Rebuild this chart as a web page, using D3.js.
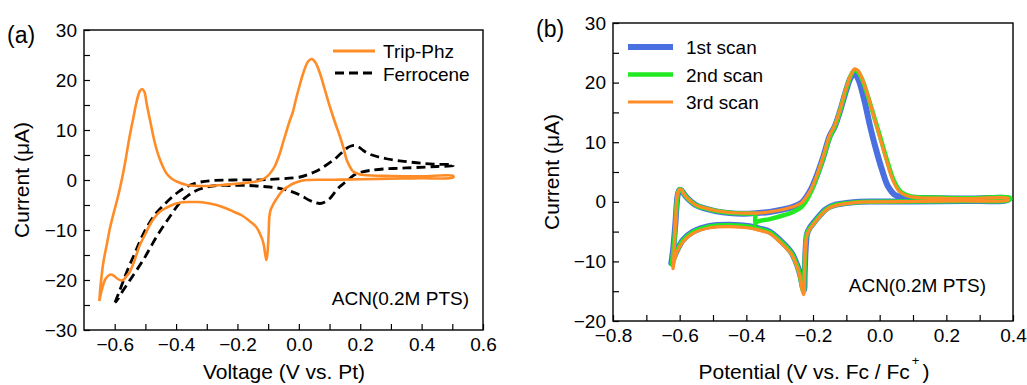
<!DOCTYPE html>
<html>
<head>
<meta charset="utf-8">
<script src="https://cdn.jsdelivr.net/npm/d3@7"></script>
<style>
  body { margin: 0; background: #fff; }
  svg { display: block; font-family: "Liberation Sans", Arial, Helvetica, sans-serif; }
</style>
</head>
<body>
<div id="chart"></div>
<script>

// ---- data: [potential (V), current (uA)] ----

// panel (a) Trip-Phz, anodic sweep from -0.65 then back
var tripPhz = [
    [-0.650,-24.2],[-0.645,-20.5],[-0.637,-16.5],[-0.626,-13],[-0.615,-9.5],[-0.605,-7],
    [-0.590,-3.5],[-0.577,0],[-0.566,3.5],[-0.552,8.5],[-0.539,12.5],[-0.528,15.8],
    [-0.518,17.8],[-0.511,18.2],[-0.503,17.6],[-0.496,15.3],[-0.485,12],[-0.474,8.7],
    [-0.463,6],[-0.452,4],[-0.440,2.3],[-0.431,1.3],[-0.415,0.3],[-0.398,-0.3],
    [-0.365,-1.0],[-0.300,-1.2],[-0.250,-1.0],[-0.214,-0.8],[-0.160,-0.5],[-0.127,-0.1],
    [-0.110,0.4],[-0.094,1.3],[-0.078,2.8],[-0.062,5.3],[-0.050,7.8],[-0.040,9.8],
    [-0.030,11.8],[-0.020,13.5],[-0.008,16.5],[0.003,19],[0.014,21.3],[0.030,23.7],
    [0.042,24.2],[0.054,23.5],[0.069,21.3],[0.085,18],[0.101,14.7],[0.118,11.5],
    [0.134,8.7],[0.146,6.3],[0.156,4],[0.167,2.6],[0.177,1.7],[0.195,1.2],[0.210,1.0],
    [0.300,0.8],[0.400,0.75],[0.503,0.8],
    [0.503,0.5],[0.400,0.35],[0.329,0.3],[0.200,0.15],[0.112,0.05],[0.025,0],
    [0.000,-0.3],[-0.018,-0.7],[-0.035,-1.3],[-0.051,-2],[-0.062,-2.8],[-0.072,-3.7],
    [-0.083,-4.8],[-0.092,-6],[-0.096,-7.3],[-0.098,-10],[-0.100,-12.7],[-0.103,-15],
    [-0.106,-16],[-0.110,-14.7],[-0.116,-12.5],[-0.127,-10.7],[-0.140,-9.3],[-0.159,-8.3],
    [-0.185,-7.1],[-0.214,-6.3],[-0.240,-5.6],[-0.268,-5],[-0.300,-4.6],[-0.330,-4.4],
    [-0.355,-4.4],[-0.385,-4.5],[-0.409,-4.9],[-0.430,-5.5],[-0.452,-6.3],[-0.470,-7.5],
    [-0.485,-8.9],[-0.500,-10.8],[-0.518,-13],[-0.539,-16.7],[-0.552,-18.5],[-0.561,-19.2],
    [-0.570,-19.9],[-0.578,-20.1],[-0.590,-19.8],[-0.602,-19.2],[-0.612,-18.9],
    [-0.620,-19.1],[-0.630,-19.8],[-0.640,-21.5],[-0.650,-24.2]
];

// panel (a) Ferrocene
var ferrocene = [
    [-0.599,-24.5],[-0.585,-22.3],[-0.572,-20.2],[-0.555,-17.5],[-0.539,-15.3],[-0.507,-10.8],
    [-0.485,-8.4],[-0.463,-6.5],[-0.440,-5],[-0.420,-3.8],[-0.395,-2.5],[-0.370,-1.5],
    [-0.345,-0.8],[-0.320,-0.4],[-0.279,-0.1],[-0.214,0],[-0.105,0.1],[0.004,0.6],
    [0.030,1.1],[0.058,1.8],[0.085,2.8],[0.113,4],[0.135,5.2],[0.155,6.3],[0.170,6.8],
    [0.183,6.9],[0.195,6.6],[0.210,5.9],[0.230,5.2],[0.255,4.7],[0.285,4.25],[0.320,3.9],
    [0.360,3.6],[0.400,3.35],[0.450,3.15],[0.503,3.0],
    [0.503,2.9],[0.450,2.7],[0.383,2.5],[0.330,2.35],[0.275,2.2],[0.230,1.9],[0.199,1.5],
    [0.180,1.0],[0.166,0.3],[0.150,-0.5],[0.134,-1.3],[0.118,-2.4],[0.101,-3.7],
    [0.085,-4.4],[0.069,-4.7],[0.052,-4.5],[0.036,-4.1],[0.000,-2.9],[-0.030,-2.2],
    [-0.070,-1.6],[-0.116,-1.3],[-0.160,-1.1],[-0.224,-1.1],[-0.268,-1.1],[-0.300,-1.4],
    [-0.322,-1.8],[-0.344,-2.4],[-0.365,-3.3],[-0.387,-4.5],[-0.420,-7.3],[-0.463,-11.3],
    [-0.507,-16],[-0.550,-20],[-0.575,-22.3],[-0.594,-24.2],[-0.599,-24.5]
];

// panel (b) three consecutive scans
var scan1 = [
    [-0.625,-10.3],[-0.620,-8.2],[-0.616,-5.8],[-0.612,-3],[-0.609,-0.5],[-0.605,1.4],
    [-0.600,2.0],[-0.595,1.9],[-0.588,1.4],[-0.580,0.8],[-0.565,0],[-0.550,-0.6],
    [-0.520,-1.2],[-0.490,-1.6],[-0.450,-1.9],[-0.410,-2.0],[-0.370,-1.9],[-0.330,-1.7],
    [-0.290,-1.3],[-0.260,-0.85],[-0.235,-0.2],[-0.220,0.8],[-0.205,2.2],[-0.190,4.2],
    [-0.170,7.4],[-0.150,11.0],[-0.135,12.6],[-0.120,15.0],[-0.100,18.8],[-0.087,20.8],
    [-0.077,21.5],[-0.068,21.0],[-0.058,19.6],[-0.045,16.8],[-0.030,13],[-0.012,9],
    [0.008,5.2],[0.025,2.6],[0.045,1.2],[0.070,0.8],[0.180,0.6],[0.280,0.55],[0.385,0.55],
    [0.385,0.3],[0.250,0.15],[0.100,0.05],[-0.020,0.05],[-0.060,0],[-0.100,-0.2],
    [-0.130,-0.45],[-0.150,-0.85],[-0.165,-1.4],[-0.180,-2.3],[-0.195,-3.3],[-0.210,-4.4],
    [-0.218,-5.4],[-0.221,-7],[-0.223,-9],[-0.225,-12.2],[-0.227,-14.8],[-0.231,-14.2],
    [-0.237,-12.6],[-0.245,-11.0],[-0.265,-8.5],[-0.300,-6.4],[-0.330,-5.0],[-0.360,-4.5],
    [-0.390,-4.1],[-0.450,-3.85],[-0.510,-4.05],[-0.560,-5.0],[-0.590,-6.4],[-0.610,-8.4],
    [-0.625,-10.3]
];

var scan2 = [
    [-0.372,-2.0],[-0.373,-3.6],[-0.366,-3.3],[-0.330,-2.9],[-0.290,-2.3],[-0.260,-1.7],
    [-0.235,-0.9],[-0.220,0.2],[-0.205,1.8],[-0.190,3.9],[-0.170,7.2],[-0.150,10.8],
    [-0.135,12.6],[-0.120,15.1],[-0.100,19.0],[-0.085,21.4],[-0.075,22.1],[-0.065,21.8],
    [-0.053,20.6],[-0.038,18.2],[-0.018,14.5],[0.003,10.6],[0.023,6.8],[0.043,3.5],
    [0.063,1.7],[0.093,0.9],[0.180,0.7],[0.280,0.6],[0.390,0.7],
    [0.390,0.35],[0.250,0.15],[0.100,0.05],[-0.020,0.02],[-0.060,-0.02],[-0.100,-0.25],
    [-0.130,-0.5],[-0.150,-0.9],[-0.165,-1.5],[-0.180,-2.4],[-0.195,-3.4],[-0.210,-4.5],
    [-0.219,-5.5],[-0.222,-7],[-0.224,-9],[-0.226,-12.4],[-0.228,-15.2],[-0.232,-14.6],
    [-0.238,-12.8],[-0.245,-11.2],[-0.265,-8.6],[-0.300,-6.5],[-0.330,-5.1],[-0.360,-4.6],
    [-0.390,-4.2],[-0.450,-3.95],[-0.510,-4.15],[-0.560,-5.1],[-0.590,-6.5],[-0.610,-8.5],
    [-0.623,-10.6],[-0.619,-8.3],[-0.615,-5.9],[-0.612,-3],[-0.609,-0.5],[-0.605,1.5],
    [-0.600,2.1],[-0.595,2.0],[-0.588,1.4],[-0.580,0.8],[-0.565,0],[-0.550,-0.6],
    [-0.520,-1.15],[-0.490,-1.55],[-0.450,-1.85],[-0.410,-1.95],[-0.380,-1.95],[-0.372,-2.0]
];

var scan3 = [
    [-0.620,-11.2],[-0.617,-8.5],[-0.615,-5.9],[-0.612,-3],[-0.610,-0.5],[-0.606,1.5],
    [-0.600,2.1],[-0.595,2.0],[-0.588,1.4],[-0.580,0.8],[-0.565,0],[-0.550,-0.6],
    [-0.520,-1.1],[-0.490,-1.5],[-0.450,-1.8],[-0.410,-1.9],[-0.370,-1.9],[-0.330,-1.7],
    [-0.290,-1.3],[-0.260,-0.85],[-0.235,-0.2],[-0.220,0.8],[-0.205,2.2],[-0.190,4.2],
    [-0.170,7.5],[-0.150,11.2],[-0.135,12.8],[-0.120,15.3],[-0.100,19.2],[-0.085,21.5],
    [-0.075,22.3],[-0.065,22],[-0.055,21],[-0.040,18.7],[-0.020,14.8],[0.000,10.9],
    [0.020,7.0],[0.040,3.6],[0.060,1.7],[0.090,0.9],[0.180,0.6],[0.280,0.55],[0.385,0.6],
    [0.385,0.3],[0.250,0.15],[0.100,0.05],[-0.020,0],[-0.060,-0.05],[-0.100,-0.3],
    [-0.130,-0.6],[-0.150,-1.0],[-0.165,-1.6],[-0.180,-2.5],[-0.195,-3.5],[-0.210,-4.6],
    [-0.219,-5.7],[-0.222,-7],[-0.224,-9],[-0.226,-12.5],[-0.228,-15.6],[-0.232,-14.9],
    [-0.238,-13],[-0.245,-11.4],[-0.265,-8.8],[-0.300,-6.7],[-0.330,-5.3],[-0.360,-4.8],
    [-0.390,-4.4],[-0.450,-4.15],[-0.510,-4.35],[-0.560,-5.3],[-0.590,-6.7],[-0.610,-8.7],
    [-0.620,-11.2]
];

// axis ticks
var ticksXa = [-0.6,-0.5,-0.4,-0.3,-0.2,-0.1,0,0.1,0.2,0.3,0.4,0.5,0.6];
var ticksYa = [-30,-25,-20,-15,-10,-5,0,5,10,15,20,25,30];
var ticksXb = [-0.8,-0.7,-0.6,-0.5,-0.4,-0.3,-0.2,-0.1,0,0.1,0.2,0.3,0.4];
var ticksYb = [-20,-15,-10,-5,0,5,10,15,20,25,30];

var legendA = ["Trip-Phz", "Ferrocene"];
var legendB = ["1st scan", "2nd scan", "3rd scan"];

var orange = "#ff8c26",
    blue = "#4a6fe0",
    green = "#22ea22";

// ---- svg ----
var svg = d3.select("#chart")
    .append("svg")
    .attr("width", 1027)
    .attr("height", 385);

svg.append("rect").attr("width", 1027).attr("height", 385).attr("fill", "#fff");

// scales (pixel ranges of the two plot frames)
var xa = d3.scaleLinear().domain([-0.7, 0.6]).range([84, 483]);
var ya = d3.scaleLinear().domain([-30, 30]).range([330, 30]);
var xb = d3.scaleLinear().domain([-0.8, 0.4]).range([613, 1013]);
var yb = d3.scaleLinear().domain([-20, 30]).range([321, 23]);

var fmtX = d3.format(".1f"),
    fmtY = d3.format("d");

function drawAxes(x, y, tx, ty, labX, labY) {
    var r = y.range(), d = x.range();

    var xAxis = d3.axisBottom(x)
        .tickValues(tx)
        .tickSizeInner(-6)
        .tickSizeOuter(0)
        .tickPadding(8)
        .tickFormat(function(v) { return labX.indexOf(+v.toFixed(1)) >= 0 ? fmtX(v) : ""; });

    var yAxis = d3.axisLeft(y)
        .tickValues(ty)
        .tickSizeInner(-6)
        .tickSizeOuter(0)
        .tickPadding(7)
        .tickFormat(function(v) { return labY.indexOf(v) >= 0 ? fmtY(v) : ""; });

    var gx = svg.append("g")
        .attr("transform", "translate(0," + r[0] + ")")
        .call(xAxis);
    var gy = svg.append("g")
        .attr("transform", "translate(" + d[0] + ",0)")
        .call(yAxis);

    [gx, gy].forEach(function(g) {
        g.select(".domain").remove();
        g.selectAll("line").attr("stroke", "#000").attr("stroke-width", 1.2);
        g.selectAll("text")
            .attr("fill", "#000")
            .style("font-size", "19px")
            .style("font-family", "Liberation Sans, Arial, sans-serif");
    });

    // frame
    svg.append("rect")
        .attr("x", d[0])
        .attr("y", r[1])
        .attr("width", d[1] - d[0])
        .attr("height", r[0] - r[1])
        .attr("fill", "none")
        .attr("stroke", "#000")
        .attr("stroke-width", 1.4);
}

drawAxes(xa, ya, ticksXa, ticksYa, [-0.6,-0.4,-0.2,0,0.2,0.4,0.6], [-30,-20,-10,0,10,20,30]);
drawAxes(xb, yb, ticksXb, ticksYb, [-0.8,-0.6,-0.4,-0.2,0,0.2,0.4], [-20,-10,0,10,20,30]);

// ---- curves ----
var lineA = d3.line()
    .x(function(d) { return xa(d[0]); })
    .y(function(d) { return ya(d[1]); })
    .curve(d3.curveCatmullRom.alpha(0.5));

var lineB = d3.line()
    .x(function(d) { return xb(d[0]); })
    .y(function(d) { return yb(d[1]); })
    .curve(d3.curveCatmullRom.alpha(0.5));

svg.append("path")
    .datum(ferrocene)
    .attr("fill", "none")
    .attr("stroke", "#000")
    .attr("stroke-width", 2.8)
    .attr("stroke-dasharray", "9,5")
    .attr("d", lineA);

svg.append("path")
    .datum(tripPhz)
    .attr("fill", "none")
    .attr("stroke", orange)
    .attr("stroke-width", 2.6)
    .attr("stroke-linejoin", "round")
    .attr("d", lineA);

var scans = [
    {data: scan1, color: blue, w: 6},
    {data: scan2, color: green, w: 4.5},
    {data: scan3, color: orange, w: 3.2}
];

scans.forEach(function(s) {
    svg.append("path")
        .datum(s.data)
        .attr("fill", "none")
        .attr("stroke", s.color)
        .attr("stroke-width", s.w)
        .attr("stroke-linejoin", "round")
        .attr("stroke-linecap", "round")
        .attr("d", lineB);
});

// ---- legends ----
var legA = svg.append("g");
legA.append("line")
    .attr("x1", 333).attr("x2", 375).attr("y1", 51).attr("y2", 51)
    .attr("stroke", orange).attr("stroke-width", 2.8);
legA.append("line")
    .attr("x1", 335).attr("x2", 375).attr("y1", 73).attr("y2", 73)
    .attr("stroke", "#000").attr("stroke-width", 2.8).attr("stroke-dasharray", "9,5");
legA.selectAll("text")
    .data(legendA)
    .enter()
    .append("text")
    .attr("x", 383)
    .attr("y", function(d, i) { return 58 + i * 22.5; })
    .style("font-size", "19px")
    .text(function(d) { return d; });

var legB = svg.append("g");
legB.selectAll("line")
    .data(scans)
    .enter()
    .append("line")
    .attr("x1", 628).attr("x2", 673)
    .attr("y1", function(d, i) { return 47 + i * 27.5; })
    .attr("y2", function(d, i) { return 47 + i * 27.5; })
    .attr("stroke", function(d) { return d.color; })
    .attr("stroke-width", function(d) { return d.w; });
legB.selectAll("text")
    .data(legendB)
    .enter()
    .append("text")
    .attr("x", 686)
    .attr("y", function(d, i) { return 54 + i * 27.5; })
    .style("font-size", "19px")
    .text(function(d) { return d; });

// ---- annotations ----
svg.append("text")
    .attr("x", 469).attr("y", 305)
    .attr("text-anchor", "end")
    .style("font-size", "19px")
    .text("ACN(0.2M PTS)");

svg.append("text")
    .attr("x", 986).attr("y", 292)
    .attr("text-anchor", "end")
    .style("font-size", "19px")
    .text("ACN(0.2M PTS)");

svg.append("text").attr("x", 7).attr("y", 43).style("font-size", "23px").text("(a)");
svg.append("text").attr("x", 536).attr("y", 37).style("font-size", "23px").text("(b)");

// axis titles
svg.append("text")
    .attr("x", 284).attr("y", 379)
    .attr("text-anchor", "middle")
    .style("font-size", "21px")
    .text("Voltage (V vs. Pt)");

var tb = svg.append("text")
    .attr("x", 814).attr("y", 379)
    .attr("text-anchor", "middle")
    .style("font-size", "21px");
tb.append("tspan").text("Potential (V vs. Fc / Fc");
tb.append("tspan").attr("dx", 2).attr("dy", -14).style("font-size", "13px").text("+");
tb.append("tspan").attr("dx", 3).attr("dy", 14).text(")");

svg.append("text")
    .attr("transform", "translate(22,180) rotate(-90)")
    .attr("text-anchor", "middle")
    .attr("dy", "0.35em")
    .style("font-size", "21px")
    .text("Current (\u03bcA)");

svg.append("text")
    .attr("transform", "translate(552,172) rotate(-90)")
    .attr("text-anchor", "middle")
    .attr("dy", "0.35em")
    .style("font-size", "21px")
    .text("Current (\u03bcA)");

</script>
</body>
</html>
